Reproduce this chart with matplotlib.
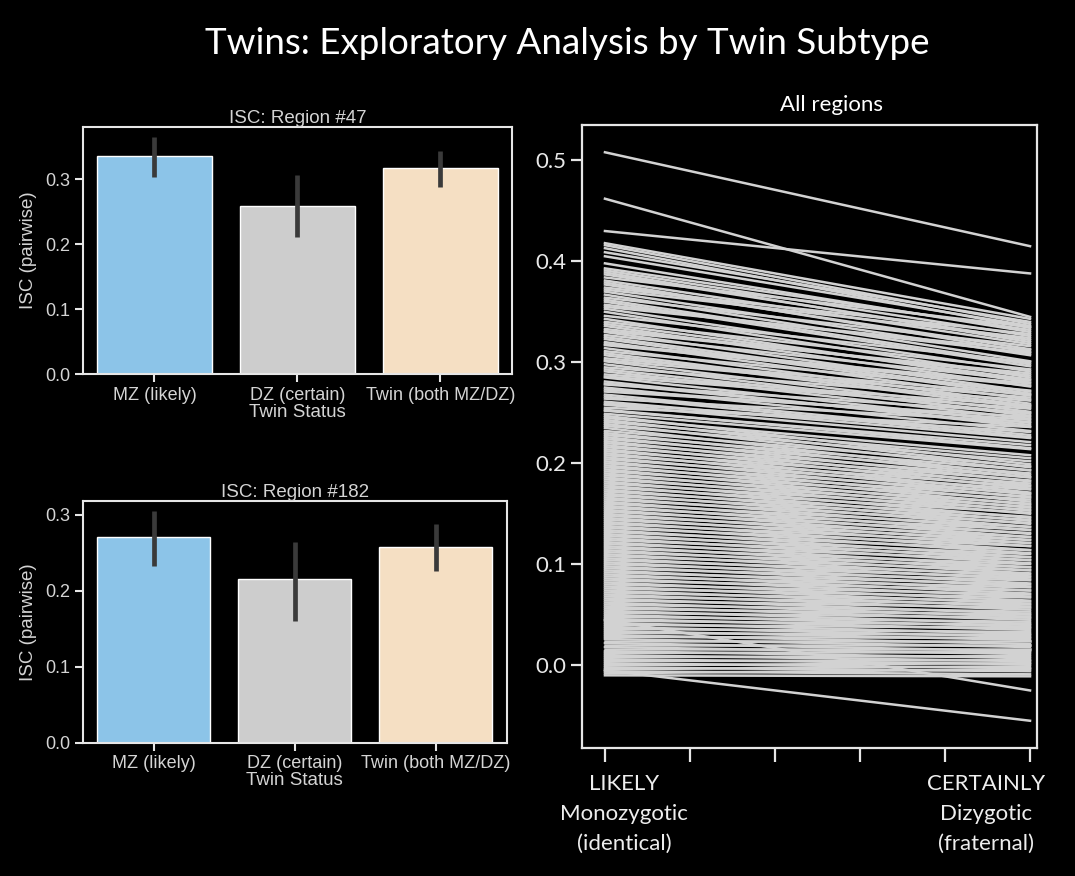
import numpy as np
import matplotlib
matplotlib.use("Agg")
import matplotlib.pyplot as plt

# ---- bar panels: ISC per twin group ----
groups = ["MZ (likely)", "DZ (certain)", "Twin (both MZ/DZ)"]
bar_colors = ["#8cc4e8", "#cdcdcd", "#f5dfc3"]

r47_mean = [0.335, 0.258, 0.317]
r47_lo = [0.303, 0.211, 0.288]
r47_hi = [0.364, 0.306, 0.343]

r182_mean = [0.271, 0.215, 0.258]
r182_lo = [0.233, 0.160, 0.226]
r182_hi = [0.305, 0.264, 0.288]

# ---- all regions: ISC for MZ (x=0) and DZ (x=1) ----
mz_isc = [
    0.508, 0.462, 0.430, 0.045, -0.005,
    0.418, 0.416, 0.413, 0.409, 0.393, 0.391, 0.387, 0.384, 0.381, 0.377,
    0.374, 0.370, 0.367, 0.364, 0.360, 0.357, 0.353, 0.350, 0.346, 0.343,
    0.340, 0.336, 0.333, 0.330, 0.327, 0.323, 0.320, 0.317, 0.314, 0.311,
    0.307, 0.304, 0.301, 0.298, 0.295, 0.291, 0.288, 0.285, 0.281, 0.278,
    0.275, 0.271, 0.268, 0.264, 0.261, 0.258, 0.255, 0.252,
    0.405, 0.398, 0.389, 0.379, 0.372, 0.362, 0.355, 0.338, 0.331, 0.325,
    0.318, 0.309, 0.302, 0.293, 0.286, 0.279, 0.273, 0.266, 0.259, 0.253,
    0.249, 0.247, 0.245, 0.243, 0.241, 0.239, 0.237, 0.235, 0.232, 0.230,
    0.228, 0.226, 0.224, 0.222, 0.220, 0.218, 0.216, 0.214, 0.212, 0.210,
    0.208, 0.206, 0.204, 0.202, 0.200, 0.198, 0.196, 0.194, 0.192, 0.190,
    0.188, 0.186, 0.184, 0.182, 0.180, 0.178, 0.176, 0.174, 0.172, 0.170,
    0.168, 0.166, 0.164, 0.162, 0.160, 0.158, 0.156, 0.154, 0.152, 0.150,
    0.148, 0.146, 0.144, 0.142, 0.140, 0.138, 0.136, 0.134, 0.132, 0.130,
    0.128, 0.126, 0.124, 0.122, 0.120, 0.118, 0.116, 0.114, 0.112, 0.110,
    0.108, 0.106, 0.104, 0.102, 0.100, 0.098, 0.096, 0.094, 0.092, 0.090,
    0.088, 0.086, 0.084, 0.082, 0.080, 0.078, 0.076, 0.074, 0.072, 0.070,
    0.068, 0.066, 0.064, 0.062, 0.060, 0.058, 0.056, 0.054, 0.052, 0.050,
    0.048, 0.046, 0.044, 0.042, 0.040, 0.038, 0.036, 0.034, 0.032, 0.030,
    0.028, 0.026, 0.024, 0.022, 0.020, 0.018, 0.016, 0.014, 0.012, 0.010,
    0.008, 0.006, 0.004, 0.002, 0.000, -0.002, -0.004, -0.006, -0.008, -0.010,
]
dz_isc = [
    0.415, 0.345, 0.388, -0.025, -0.055,
    0.343, 0.338, 0.334, 0.340, 0.332, 0.326, 0.322, 0.335, 0.318, 0.313,
    0.328, 0.307, 0.301, 0.316, 0.296, 0.309, 0.291, 0.285, 0.300, 0.280,
    0.293, 0.276, 0.287, 0.271, 0.282, 0.267, 0.263, 0.277, 0.259, 0.272,
    0.255, 0.268, 0.251, 0.247, 0.262, 0.244, 0.257, 0.240, 0.236, 0.250,
    0.232, 0.246, 0.228, 0.241, 0.225, 0.221, 0.236, 0.218,
    0.336, 0.330, 0.320, 0.310, 0.324, 0.298, 0.312, 0.283, 0.289, 0.269,
    0.279, 0.257, 0.265, 0.249, 0.254, 0.238, 0.243, 0.226, 0.231, 0.215,
    0.214, 0.199, 0.208, 0.196, 0.205, 0.193, 0.202, 0.188, 0.197, 0.186,
    0.193, 0.182, 0.190, 0.178, 0.186, 0.175, 0.183, 0.171, 0.180, 0.169,
    0.177, 0.166, 0.174, 0.162, 0.170, 0.159, 0.167, 0.156, 0.164, 0.153,
    0.160, 0.150, 0.157, 0.146, 0.154, 0.143, 0.151, 0.140, 0.147, 0.137,
    0.144, 0.134, 0.141, 0.130, 0.137, 0.127, 0.134, 0.124, 0.131, 0.121,
    0.127, 0.118, 0.124, 0.114, 0.121, 0.111, 0.118, 0.107, 0.114, 0.104,
    0.110, 0.101, 0.107, 0.097, 0.104, 0.094, 0.100, 0.091, 0.097, 0.088,
    0.094, 0.085, 0.090, 0.081, 0.087, 0.078, 0.084, 0.074, 0.080, 0.071,
    0.077, 0.068, 0.074, 0.064, 0.070, 0.061, 0.067, 0.058, 0.063, 0.055,
    0.060, 0.051, 0.057, 0.048, 0.053, 0.045, 0.050, 0.041, 0.047, 0.038,
    0.043, 0.035, 0.040, 0.031, 0.037, 0.028, 0.033, 0.025, 0.030, 0.021,
    0.027, 0.018, 0.024, 0.014, 0.020, 0.011, 0.016, 0.007, 0.013, 0.004,
    0.009, 0.001, 0.005, -0.003, 0.002, -0.006, -0.001, -0.009, -0.004, -0.011,
]

fg = "#e6e6e6"
txt = "#d4d4d4"
fig = plt.figure(figsize=(10.75, 8.76), dpi=100, facecolor="black")


def bar_panel(rect, means, lo, hi, title, ymax, yticks):
    ax = fig.add_axes(rect, facecolor="black")
    x = np.arange(len(groups))
    ax.bar(x, means, width=0.8, color=bar_colors, edgecolor="white", linewidth=1.0)
    for xi, a, b in zip(x, lo, hi):
        ax.plot([xi, xi], [a, b], color="#3a3a3a", lw=3.4, solid_capstyle="butt")
    ax.set_xlim(-0.5, 2.5)
    ax.set_ylim(0, ymax)
    ax.set_yticks(yticks)
    ax.set_yticklabels(["%.1f" % t for t in yticks])
    ax.set_xticks(x)
    ax.set_xticklabels(groups)
    for s in ax.spines.values():
        s.set_color(fg)
        s.set_linewidth(1.5)
    ax.tick_params(colors=fg, labelcolor=txt, labelsize=13, length=6, width=1.5, pad=3)
    ax.set_title(title, color=txt, fontsize=13.5, pad=3, family="Liberation Sans")
    ax.set_ylabel("ISC (pairwise)", color=txt, fontsize=13.5, labelpad=6, family="Liberation Sans")
    ax.set_xlabel("Twin Status", color=txt, fontsize=13.5, labelpad=0, family="Liberation Sans")
    for lab in ax.get_xticklabels() + ax.get_yticklabels():
        lab.set_family("Liberation Sans")
    return ax


bar_panel([0.0772, 0.573, 0.399, 0.282], r47_mean, r47_lo, r47_hi,
          "ISC: Region #47", 0.38, [0.0, 0.1, 0.2, 0.3])
bar_panel([0.0772, 0.152, 0.394, 0.276], r182_mean, r182_lo, r182_hi,
          "ISC: Region #182", 0.318, [0.0, 0.1, 0.2, 0.3])

# ---- right panel ----
ax = fig.add_axes([0.5414, 0.1461, 0.4233, 0.7112], facecolor="black")
for a, b in zip(mz_isc, dz_isc):
    ax.plot([0, 1], [a, b], color="#d2d2d2", lw=1.8)
ax.set_xlim(-0.054, 1.0165)
ax.set_ylim(-0.082, 0.535)
ax.set_xticks([0, 0.2, 0.4, 0.6, 0.8, 1.0])
ax.set_xticklabels([])
ax.set_yticks([0.0, 0.1, 0.2, 0.3, 0.4, 0.5])
ax.set_yticklabels(["0.0", "0.1", "0.2", "0.3", "0.4", "0.5"], family="Lato")
for s in ax.spines.values():
    s.set_color(fg)
    s.set_linewidth(1.6)
ax.tick_params(colors=fg, labelcolor="#e8e8e8", labelsize=16, length=8, width=1.6)
ax.tick_params(axis="x", length=10)

fig.text(832 / 1075, 1 - 105 / 876, "All regions", color="white", fontsize=16,
         family="Lato", ha="center", va="center")
fig.text(624 / 1075, 1 - 814 / 876, "LIKELY\nMonozygotic\n(identical)", color="#eeeeee",
         fontsize=16, family="Lato", ha="center", va="center", linespacing=1.6)
fig.text(986 / 1075, 1 - 814 / 876, "CERTAINLY\nDizygotic\n(fraternal)", color="#eeeeee",
         fontsize=16, family="Lato", ha="center", va="center", linespacing=1.6)

fig.text(567 / 1075, 1 - 43 / 876, "Twins: Exploratory Analysis by Twin Subtype",
         color="white", fontsize=26.5, family="Lato", ha="center", va="center")

fig.savefig("out.png", dpi=100, facecolor="black")
